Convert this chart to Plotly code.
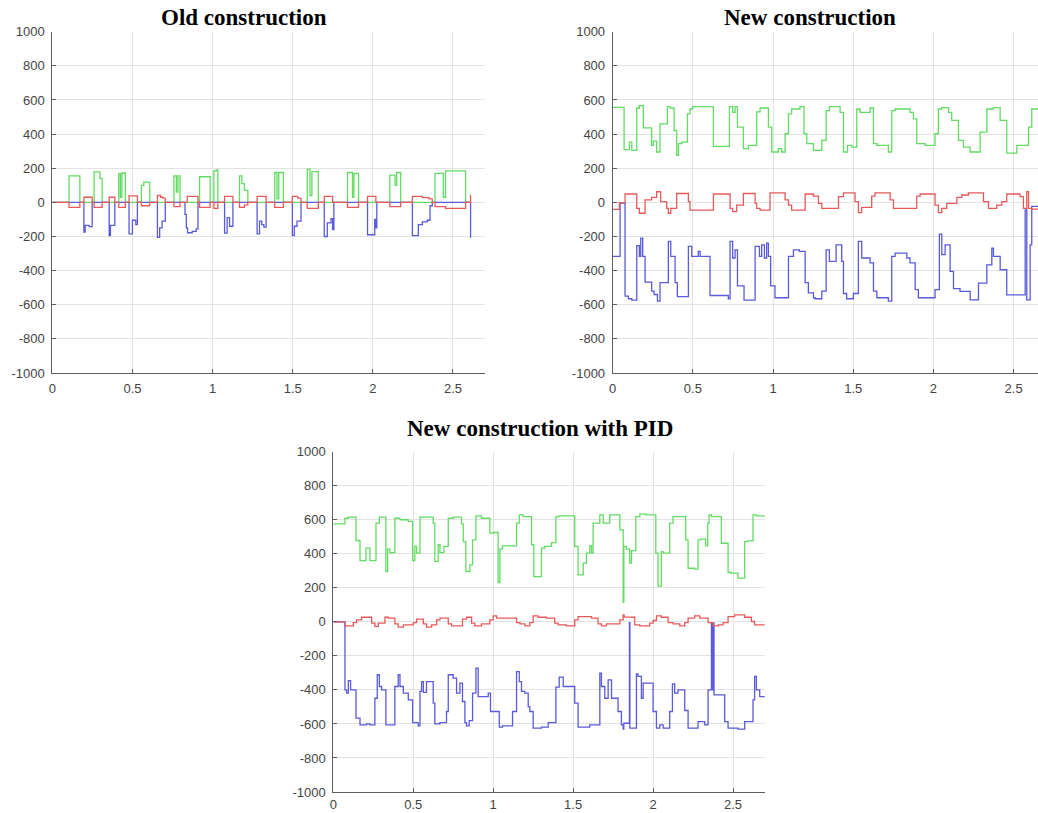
import plotly.graph_objects as go

# ---------------- data ----------------
# Old construction
old_green_t = [0, 0.104, 0.172, 0.261, 0.297, 0.311, 0.415, 0.425, 0.434, 0.456, 0.556, 0.571, 0.608,
               0.759, 0.774, 0.784, 0.797, 0.919, 0.985, 1.008, 1.023, 1.033, 1.168, 1.183, 1.199, 1.220,
               1.388, 1.402, 1.413, 1.442, 1.591, 1.608, 1.620, 1.660, 1.842, 1.873, 1.882, 1.911,
               2.106, 2.139, 2.149, 2.174, 2.388, 2.440, 2.454, 2.579, 2.612]
old_green_v = [0, 155, 0, 178, 140, 0, 168, 30, 172, 0, 100, 118, 0,
               155, 60, 155, 0, 150, 0, 185, 190, 0, 155, 110, 70, 0,
               175, 20, 175, 0, 195, 40, 180, 0, 175, 30, 170, 0,
               160, 100, 175, 0, 170, 30, 185, 0, 0]

old_red_t = [0, 0.104, 0.172, 0.197, 0.249, 0.261, 0.311, 0.355, 0.390, 0.415, 0.456, 0.479, 0.531,
             0.556, 0.608, 0.656, 0.676, 0.691, 0.705, 0.759, 0.797, 0.842, 0.909, 0.919, 0.985,
             1.008, 1.033, 1.075, 1.127, 1.168, 1.199, 1.220, 1.278, 1.334, 1.388, 1.442, 1.498,
             1.531, 1.552, 1.591, 1.660, 1.697, 1.749, 1.842, 1.911, 1.967, 2.019, 2.106, 2.174,
             2.247, 2.309, 2.351, 2.371, 2.388, 2.454, 2.579, 2.610, 2.612]
old_red_v = [0, -30, 0, 30, 0, -30, 0, 30, 0, -30, 0, 38, 0,
             -20, 0, 40, 30, 25, 0, -25, 0, 35, 0, -30, 0,
             -35, 0, 35, 0, -30, -15, 0, 35, 0, -30, 0, 35,
             25, 0, -35, 0, 35, 0, -30, 0, 35, 0, -25, 0,
             35, 28, 20, 0, -25, -35, 0, 40, 40]

old_blue_t = [0, 0.197, 0.205, 0.230, 0.249, 0.355, 0.363, 0.390, 0.479, 0.500, 0.521, 0.531,
              0.656, 0.670, 0.685, 0.705, 0.828, 0.836, 0.844, 0.873, 0.898, 0.909,
              1.075, 1.091, 1.106, 1.127, 1.278, 1.293, 1.307, 1.320, 1.334,
              1.498, 1.510, 1.527, 1.552, 1.697, 1.716, 1.739, 1.749, 1.757,
              1.967, 2.012, 2.019, 2.025, 2.247, 2.284, 2.309, 2.340, 2.357, 2.371, 2.610, 2.612]
old_blue_v = [0, -175, -135, -142, 0, -195, -135, 0, -185, -105, -130, 0,
              -205, -150, -110, 0, -70, -150, -178, -170, -155, 0,
              -180, -90, -140, 0, -185, -110, -130, -145, 0,
              -195, -140, -110, 0, -200, -120, -95, -160, 0,
              -190, -100, -150, 0, -195, -130, -115, -105, -20, 0, -205, -205]

# New construction
new_green_t = [0, 0.071, 0.104, 0.119, 0.150, 0.166, 0.191, 0.243, 0.254, 0.274, 0.295, 0.341, 0.358,
               0.383, 0.399, 0.410, 0.430, 0.466, 0.482, 0.499, 0.628, 0.728, 0.748, 0.763, 0.778,
               0.815, 0.846, 0.898, 0.919, 0.971, 0.992, 1.033, 1.054, 1.075, 1.096, 1.116, 1.168,
               1.193, 1.210, 1.252, 1.304, 1.331, 1.351, 1.418, 1.439, 1.464, 1.491, 1.522, 1.543,
               1.605, 1.626, 1.647, 1.719, 1.740, 1.761, 1.854, 1.875, 1.896, 1.948, 2.010, 2.031,
               2.052, 2.094, 2.114, 2.156, 2.187, 2.229, 2.291, 2.333, 2.374, 2.416, 2.457, 2.520,
               2.593, 2.613, 2.653]
new_green_v = [557, 309, 353, 305, 553, 567, 437, 334, 359, 295, 460, 561, 553,
               421, 276, 344, 353, 518, 547, 561, 328, 561, 527, 561, 441,
               315, 334, 530, 553, 441, 295, 315, 295, 402, 518, 547, 561,
               402, 344, 305, 363, 538, 561, 527, 295, 334, 324, 547, 527,
               553, 344, 334, 295, 538, 547, 527, 489, 344, 334, 402, 547,
               555, 527, 480, 363, 324, 295, 412, 547, 555, 480, 289, 334,
               441, 547, 547]

new_red_t = [0, 0.042, 0.077, 0.150, 0.166, 0.202, 0.243, 0.274, 0.299, 0.337, 0.347, 0.362, 0.399,
             0.472, 0.482, 0.628, 0.732, 0.748, 0.773, 0.815, 0.888, 0.898, 0.919, 0.981, 1.075,
             1.096, 1.116, 1.200, 1.231, 1.252, 1.283, 1.304, 1.408, 1.439, 1.511, 1.532, 1.553,
             1.615, 1.636, 1.730, 1.751, 1.896, 1.917, 2.010, 2.031, 2.052, 2.083, 2.146, 2.177,
             2.218, 2.312, 2.343, 2.395, 2.426, 2.457, 2.541, 2.561, 2.582, 2.593, 2.613, 2.653]
new_red_v = [-41, -2, 49, -35, -64, 14, 29, 62, 4, -35, -64, -35, 52,
             4, -45, 49, -35, -54, -16, 52, -6, -35, -45, 56, 14,
             -16, -45, 49, 49, 37, -6, -35, 33, 56, 4, -60, -29,
             37, 56, 14, -35, 37, 49, -16, -60, -35, -6, 29, 43,
             56, 4, -35, -16, 4, 49, 33, -35, 62, -35, -40, -40]

new_blue_t = [0, 0.046, 0.077, 0.098, 0.119, 0.150, 0.166, 0.175, 0.187, 0.202, 0.243, 0.258, 0.279,
              0.295, 0.347, 0.362, 0.389, 0.403, 0.472, 0.493, 0.534, 0.545, 0.607, 0.721, 0.732,
              0.748, 0.763, 0.778, 0.819, 0.888, 0.915, 0.929, 0.946, 0.960, 0.971, 0.985, 1.012,
              1.096, 1.127, 1.164, 1.200, 1.220, 1.252, 1.262, 1.304, 1.331, 1.351, 1.393, 1.428,
              1.439, 1.459, 1.501, 1.532, 1.553, 1.605, 1.626, 1.647, 1.719, 1.740, 1.761, 1.834,
              1.854, 1.886, 1.906, 2.010, 2.037, 2.052, 2.073, 2.104, 2.125, 2.166, 2.229, 2.281,
              2.333, 2.364, 2.374, 2.416, 2.457, 2.572, 2.582, 2.603, 2.613, 2.653]
new_blue_v = [-317, -5, -550, -565, -573, -254, -317, -210, -317, -468, -520, -540, -579,
              -470, -229, -317, -470, -553, -258, -317, -287, -317, -546, -565, -229,
              -326, -278, -490, -573, -258, -317, -249, -326, -239, -317, -490, -559,
              -317, -278, -287, -470, -530, -559, -565, -520, -278, -346, -249, -346,
              -534, -565, -534, -229, -326, -355, -520, -559, -579, -317, -297, -326,
              -355, -511, -559, -511, -186, -306, -249, -404, -505, -522, -571, -473,
              -366, -268, -317, -395, -542, -44, -571, -249, -24, -24]

# New construction with PID
pid_green_t = [0, 0.073, 0.094, 0.142, 0.167, 0.204, 0.229, 0.267, 0.288, 0.329, 0.340, 0.354, 0.385,
               0.417, 0.469, 0.496, 0.510, 0.521, 0.542, 0.625, 0.635, 0.656, 0.667, 0.692, 0.719,
               0.750, 0.802, 0.813, 0.829, 0.854, 0.871, 0.892, 0.927, 0.979, 1.000, 1.031, 1.042,
               1.058, 1.146, 1.163, 1.188, 1.240, 1.254, 1.302, 1.323, 1.365, 1.392, 1.413, 1.510,
               1.531, 1.563, 1.583, 1.604, 1.615, 1.625, 1.667, 1.688, 1.729, 1.792, 1.813, 1.817,
               1.833, 1.854, 1.865, 1.892, 1.917, 1.958, 2.017, 2.031, 2.052, 2.063, 2.104, 2.125,
               2.204, 2.219, 2.260, 2.281, 2.296, 2.329, 2.342, 2.350, 2.365, 2.427, 2.469, 2.490,
               2.531, 2.573, 2.588, 2.625, 2.646, 2.698]
pid_green_v = [576, 609, 615, 478, 360, 433, 360, 580, 615, 296, 427, 407, 609,
               600, 590, 360, 443, 404, 615, 580, 355, 453, 407, 443, 609,
               615, 576, 472, 296, 335, 482, 623, 609, 521, 525, 230, 427,
               447, 580, 629, 619, 453, 266, 433, 443, 466, 619, 623, 443,
               276, 345, 404, 447, 404, 580, 629, 580, 629, 541, 115, 443,
               427, 345, 419, 619, 633, 629, 404, 210, 413, 404, 580, 619,
               482, 315, 310, 482, 486, 447, 580, 629, 619, 462, 290, 286,
               257, 472, 476, 629, 623, 623]

pid_red_t = [0, 0.073, 0.125, 0.146, 0.177, 0.240, 0.260, 0.281, 0.323, 0.344, 0.385, 0.406, 0.438,
             0.500, 0.521, 0.563, 0.583, 0.615, 0.646, 0.667, 0.719, 0.740, 0.808, 0.833, 0.865,
             0.885, 0.927, 0.979, 1.000, 1.021, 1.146, 1.167, 1.198, 1.229, 1.250, 1.281, 1.333,
             1.385, 1.406, 1.458, 1.510, 1.531, 1.615, 1.656, 1.677, 1.708, 1.792, 1.813, 1.819,
             1.865, 1.885, 1.917, 1.979, 2.000, 2.021, 2.052, 2.094, 2.125, 2.167, 2.198, 2.219,
             2.260, 2.292, 2.344, 2.375, 2.406, 2.438, 2.469, 2.510, 2.573, 2.615, 2.635, 2.698]
pid_red_v = [0, -24, -4, 12, 27, -8, -27, -8, 27, 22, -12, -31, -18,
             -4, 16, -12, -31, -18, 12, 22, -12, -24, 16, 27, -8,
             -24, -12, 12, 35, 22, -4, -12, -24, -4, 35, 27, 22,
             -8, -18, -24, 12, 31, 22, -12, -24, -12, 12, 41, 28,
             27, -18, -24, -8, 8, 35, 27, -4, -12, -24, -4, 22,
             35, 22, -4, -24, -18, -4, 31, 41, 27, 2, -18, -18]

pid_blue_t = [0, 0.073, 0.083, 0.094, 0.108, 0.142, 0.167, 0.208, 0.229, 0.260, 0.275, 0.288, 0.302,
              0.329, 0.385, 0.406, 0.417, 0.438, 0.469, 0.496, 0.531, 0.542, 0.552, 0.563, 0.583,
              0.625, 0.635, 0.667, 0.708, 0.719, 0.750, 0.771, 0.792, 0.808, 0.823, 0.833, 0.850,
              0.871, 0.892, 0.906, 0.969, 0.983, 1.038, 1.058, 1.121, 1.146, 1.163, 1.177, 1.198,
              1.219, 1.229, 1.250, 1.302, 1.344, 1.392, 1.413, 1.438, 1.510, 1.531, 1.604, 1.667,
              1.677, 1.698, 1.719, 1.740, 1.781, 1.802, 1.813, 1.817, 1.852, 1.855, 1.896, 1.906,
              1.927, 1.938, 2.000, 2.021, 2.042, 2.063, 2.104, 2.121, 2.135, 2.156, 2.198, 2.219,
              2.281, 2.323, 2.344, 2.365, 2.369, 2.376, 2.381, 2.448, 2.469, 2.531, 2.573, 2.625,
              2.635, 2.646, 2.667, 2.698]
pid_blue_v = [0, -400, -419, -345, -400, -566, -605, -600, -605, -449, -311, -380, -400,
              -605, -380, -311, -380, -419, -458, -592, -611, -409, -351, -415, -351,
              -478, -600, -592, -527, -311, -331, -419, -360, -468, -592, -611, -580,
              -419, -272, -439, -419, -527, -619, -611, -527, -292, -351, -409, -419,
              -498, -527, -625, -619, -592, -384, -325, -380, -478, -619, -605, -302,
              -380, -449, -341, -449, -527, -605, -630, -596, -5, -625, -306, -321,
              -449, -360, -527, -625, -605, -625, -527, -365, -419, -400, -521, -625,
              -586, -605, -400, -8, -400, -8, -429, -586, -625, -631, -586, -458,
              -321, -400, -439, -439]

titles = ["Old construction", "New construction", "New construction with PID"]
x_ticks = [0, 0.5, 1, 1.5, 2, 2.5]
x_tick_text = ["0", "0.5", "1", "1.5", "2", "2.5"]
y_ticks = [1000, 800, 600, 400, 200, 0, -200, -400, -600, -800, -1000]
y_tick_text = ["1000", "800", "600", "400", "200", "0", "-200", "-400", "-600", "-800", "-1000"]

GREEN = "#62dc62"
RED = "#e85a5a"
BLUE = "#5a5adc"

W, H = 1038, 813

fig = go.Figure()

panels = [
    (old_green_t, old_green_v, old_blue_t, old_blue_v, old_red_t, old_red_v, "x", "y"),
    (new_green_t, new_green_v, new_blue_t, new_blue_v, new_red_t, new_red_v, "x2", "y2"),
    (pid_green_t, pid_green_v, pid_blue_t, pid_blue_v, pid_red_t, pid_red_v, "x3", "y3"),
]
for gt, gv, bt, bv, rt, rv, xa, ya in panels:
    for t, v, c in ((gt, gv, GREEN), (bt, bv, BLUE), (rt, rv, RED)):
        fig.add_trace(go.Scatter(x=t, y=v, mode="lines", line=dict(color=c, width=1.3, shape="hv"),
                                 xaxis=xa, yaxis=ya, showlegend=False, hoverinfo="skip"))

TICKFONT = dict(family="Liberation Sans, Arial", size=13, color="#444444")

def xax(domain, rng, anchor, standoff=3):
    return dict(domain=domain, range=rng, anchor=anchor, tickvals=x_ticks, ticktext=x_tick_text,
                automargin=False, showgrid=True, gridcolor="#e3e3e3", gridwidth=1, zeroline=False,
                showline=True, linecolor="#5f5f5f", linewidth=1, ticks="inside", ticklen=4,
                tickcolor="#5f5f5f", tickfont=TICKFONT, ticklabelstandoff=standoff)

def yax(domain, anchor):
    return dict(domain=domain, range=[-1000, 1000], anchor=anchor, tickvals=y_ticks, ticktext=y_tick_text,
                automargin=False, showgrid=True, gridcolor="#e3e3e3", gridwidth=1, zeroline=False,
                showline=True, linecolor="#5f5f5f", linewidth=1, ticks="inside", ticklen=4,
                tickcolor="#5f5f5f", tickfont=TICKFONT, ticklabelstandoff=4)

top_dom = [1 - 373.0 / H, 1 - 31.7 / H]
bot_dom = [1 - 792.0 / H, 1 - 451.7 / H]

fig.update_layout(
    width=W, height=H, margin=dict(l=0, r=0, t=0, b=0, autoexpand=False),
    paper_bgcolor="white", plot_bgcolor="white",
    xaxis=xax([52.3 / W, 485.0 / W], [0, 2.7], "y"),
    yaxis=yax(top_dom, "x"),
    xaxis2=xax([612.7 / W, 1.0], [0, 2.652], "y2"),
    yaxis2=yax(top_dom, "x2"),
    xaxis3=xax([333.3 / W, 765.0 / W], [0, 2.7], "y3", standoff=0),
    yaxis3=yax(bot_dom, "x3"),
)

title_pos = [(244, 17), (810, 17), (539.5, 428)]
for txt, (px, py) in zip(titles, title_pos):
    fig.add_annotation(text="<b>" + txt + "</b>", x=px / W, y=1 - py / H, xref="paper", yref="paper",
                       xanchor="center", yanchor="middle", showarrow=False,
                       font=dict(family="Liberation Serif, Times New Roman", size=23, color="black"))

fig.write_html("out.html", config={"displayModeBar": False},
               post_script="document.body.style.margin='0';document.body.style.overflow='hidden';"
                           "document.documentElement.style.overflow='hidden';")
